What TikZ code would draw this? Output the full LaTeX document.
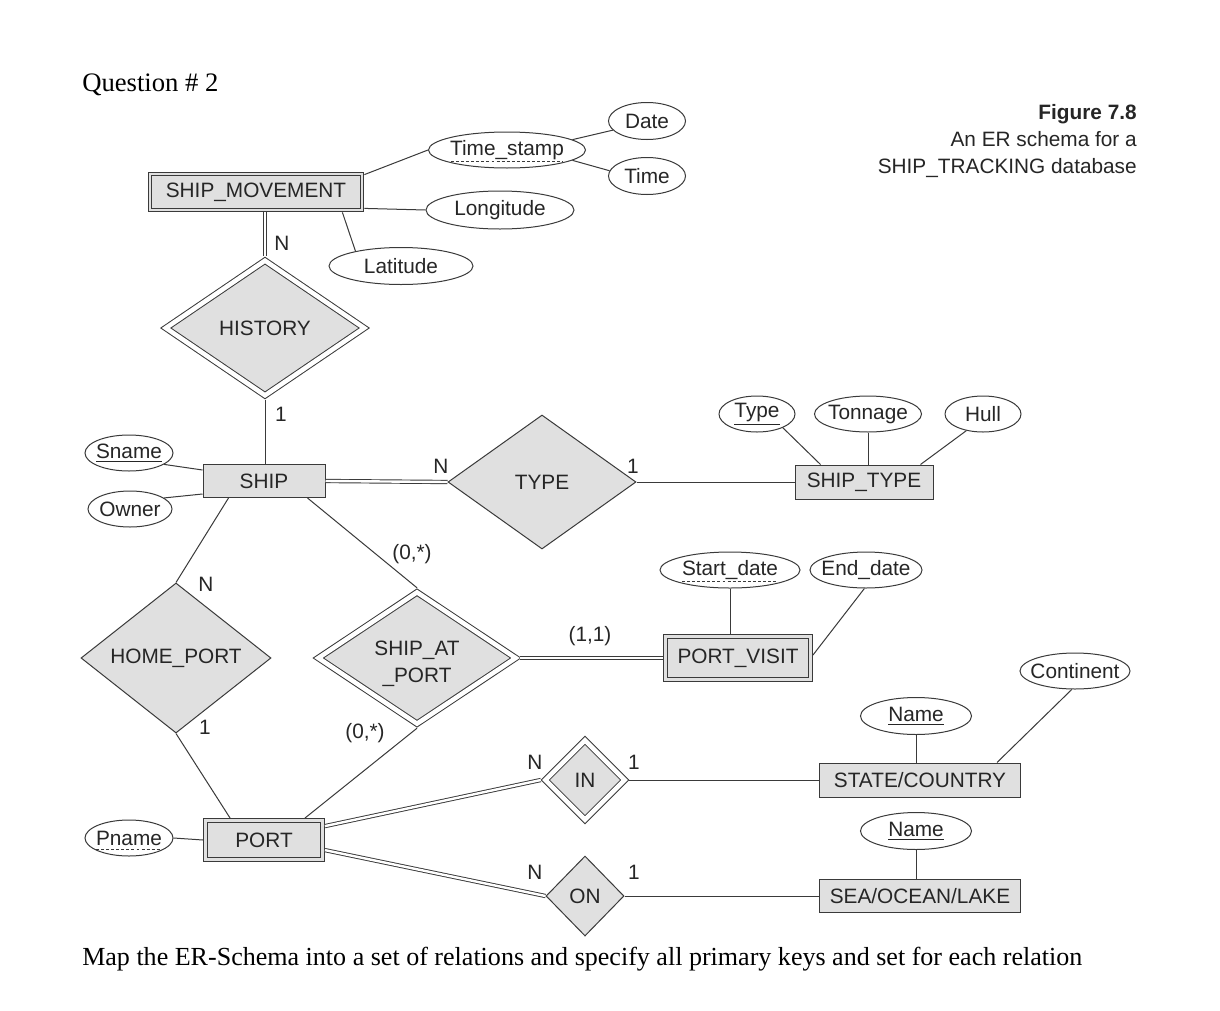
\documentclass[tikz,border=0pt]{standalone}
\usepackage{fontspec}
\setmainfont{Liberation Serif}
\newfontfamily\diagfont{Liberation Sans}
\usetikzlibrary{shapes.geometric,calc}
\definecolor{ln}{HTML}{3A3A3A}
\definecolor{fl}{HTML}{E0E0E0}
\definecolor{tx}{HTML}{262626}
\tikzset{
  lbl/.style={font=\diagfont\fontsize{15.6}{19}\selectfont, text=tx, inner sep=0pt},
  ent/.style={lbl, rectangle, draw=ln, fill=fl, line width=0.75pt},
  went/.style={ent, double=fl, double distance=2.2pt, outer sep=1.8pt},
  rel/.style={lbl, diamond, draw=ln, fill=fl, line width=0.75pt},
  wrel/.style={rel, double=white, double distance=3.4pt, outer sep=2.4pt},
  attr/.style={lbl, ellipse, draw=ln, fill=white, line width=0.75pt, inner xsep=-14pt, inner ysep=-5pt},
  conn/.style={draw=ln, line width=0.75pt},
  dconn/.style={draw=ln, line width=0.7pt, double=white, double distance=1.8pt},
  dul/.style={draw=ln, line width=0.6pt, dash pattern=on 2.2pt off 1.6pt},
  card/.style={lbl}
}
\begin{document}
\begin{tikzpicture}[x=0.75pt,y=-0.75pt]
\useasboundingbox[fill=white] (0,0) rectangle (1220,1010);

% texts of the page
\node[anchor=base west, inner sep=0pt, font=\fontsize{20}{24}\selectfont] (q) at (82,91) {Question \# 2};
\node[anchor=base west, inner sep=0pt] (task) at (82,965) {\resizebox{750pt}{!}{\fontsize{20}{24}\selectfont Map the ER-Schema into a set of relations and specify all primary keys and set for each relation}};

% caption
\node[lbl, anchor=base east, font=\diagfont\bfseries\fontsize{15.6}{19}\selectfont] (cap1) at (1137,119) {Figure 7.8};
\node[lbl, anchor=base east] (cap2) at (1137,146) {An ER schema for a};
\node[lbl, anchor=base east] (cap3) at (1137,173) {SHIP\_TRACKING database};

% entities
\node[went, minimum width=159pt, minimum height=27pt] (sm) at (256,192) {SHIP\_MOVEMENT};
\node[ent, minimum width=91.5pt, minimum height=24.75pt] (ship) at (264,481) {SHIP};
\node[ent, minimum width=103.5pt, minimum height=25.5pt] (stype) at (864,482) {SHIP\_TYPE};
\node[went, minimum width=108.75pt, minimum height=32.25pt] (pv) at (738,658) {PORT\_VISIT};
\node[went, minimum width=87.75pt, minimum height=29.25pt] (port) at (264,840) {PORT};
\node[ent, minimum width=150.75pt, minimum height=25.5pt] (state) at (920,780) {STATE/COUNTRY};
\node[ent, minimum width=150.75pt, minimum height=24.75pt] (sea) at (920,896) {SEA/OCEAN/LAKE};

% relationships
\node[wrel, minimum width=150.75pt, minimum height=103pt] (hist) at (265,328) {HISTORY};
\node[rel, minimum width=141pt, minimum height=100.5pt] (type) at (542,482) {TYPE};
\node[rel, minimum width=142.5pt, minimum height=97.5pt] (hp) at (176,658) {HOME\_PORT};
\node[wrel, minimum width=150pt, minimum height=100.5pt] (sap) at (417,658) {\raisebox{-8pt}[0pt][0pt]{\begin{tabular}{@{}c@{}}SHIP\_AT\\[1.5pt]\_PORT\hspace{6pt}\end{tabular}}};
\node[wrel, minimum width=61.5pt, minimum height=61.5pt] (in) at (585,780) {IN};
\node[rel, minimum width=58.5pt, minimum height=60pt] (on) at (585,896) {ON};

% attributes
\node[attr, minimum width=117.75pt, minimum height=27pt] (ts) at (507,150) {Time\_stamp};
\node[attr, minimum width=57.75pt, minimum height=27.75pt] (date) at (647,121) {Date};
\node[attr, minimum width=57.75pt, minimum height=27.75pt] (time) at (647,176) {Time};
\node[attr, minimum width=111pt, minimum height=28.5pt] (lon) at (500,210) {Longitude};
\node[attr, minimum width=108pt, minimum height=27.75pt] (lat) at (401,266) {Latitude};
\node[attr, minimum width=66pt, minimum height=27pt] (sname) at (129,453) {\underline{Sname}};
\node[attr, minimum width=63pt, minimum height=27pt] (owner) at (130,509) {Owner};
\node[attr, minimum width=57pt, minimum height=27pt] (ttype) at (757,414) {\underline{Type}};
\node[attr, minimum width=80.25pt, minimum height=27pt] (tonn) at (868,414) {Tonnage};
\node[attr, minimum width=57pt, minimum height=27pt] (hull) at (983,414) {Hull};
\node[attr, minimum width=105pt, minimum height=27pt] (sd) at (730,570) {Start\_date};
\node[attr, minimum width=84pt, minimum height=27pt] (ed) at (866,570) {End\_date};
\node[attr, minimum width=82.5pt, minimum height=27pt] (cont) at (1075,671) {Continent};
\node[attr, minimum width=83.25pt, minimum height=27.75pt] (name1) at (916,716) {\underline{Name}};
\node[attr, minimum width=83.25pt, minimum height=27.75pt] (name2) at (916,831) {\underline{Name}};
\node[attr, minimum width=66pt, minimum height=27pt] (pname) at (129,838) {Pname};

% dashed underlines of partial keys
\draw[dul] ($(ts.center)+(-56,11)$) -- ($(ts.center)+(56,11)$);
\draw[dul] ($(sd.center)+(-48,11)$) -- ($(sd.center)+(48,11)$);
\draw[dul] ($(pname.center)+(-33,11)$) -- ($(pname.center)+(33,11)$);

% connectors: attributes
\draw[conn] (ts.west) -- ($(sm.north east)+(0,3)$);
\draw[conn] (lon.west) -- ($(sm.south east)+(0,-4)$);
\draw[conn] ($(sm.south east)+(-22,0)$) -- (lat.162);
\draw[conn] (ts.9) -- (date.195);
\draw[conn] (ts.-9) -- (time.172);
\draw[conn] (sname.-18) -- ($(ship.north west)+(0,6)$);
\draw[conn] (owner.18) -- ($(ship.south west)+(0,-4)$);
\draw[conn] (ttype.-28) -- ($(stype.north west)+(26,0)$);
\draw[conn] (tonn.south) -- (tonn.south |- stype.north);
\draw[conn] (hull.-135) -- ($(stype.north east)+(-13,0)$);
\draw[conn] (sd.south) -- (sd.south |- pv.north);
\draw[conn] (ed.-95) -- ($(pv.north east)+(0,21)$);
\draw[conn] (cont.-100) -- ($(state.north east)+(-24,0)$);
\draw[conn] (name1.south) -- (name1.south |- state.north);
\draw[conn] (name2.south) -- (name2.south |- sea.north);
\draw[conn] (pname.east) -- (port.west);

% connectors: relationships
\draw[dconn] (hist.north |- sm.south) -- (hist.north);
\draw[conn] (hist.south) -- (hist.south |- ship.north);
\draw[dconn] (ship.east) -- (type.west);
\draw[conn] (type.east) -- (stype.west);
\draw[conn] ($(ship.south west)+(26,0)$) -- (hp.north);
\draw[conn] (hp.south) -- ($(port.north west)+(27,0)$);
\draw[conn] ($(ship.south east)+(-18,0)$) -- (sap.north);
\draw[conn] (sap.south) -- ($(port.north east)+(-20,0)$);
\draw[dconn] (sap.east) -- (pv.west);
\draw[dconn] ($(port.north east)+(0,8)$) -- (in.west);
\draw[conn] (in.east) -- (state.west);
\draw[dconn] ($(port.north east)+(0,32)$) -- (on.west);
\draw[conn] (on.east) -- (sea.west);

% cardinalities
\node[card] (c1) at (282,243) {N};
\node[card] (c2) at (281,414) {1};
\node[card] (c3) at (441,466) {N};
\node[card] (c4) at (633,466) {1};
\node[card] (c5) at (206,584) {N};
\node[card] (c6) at (205,727) {1};
\node[card] (c7) at (412,554) {(0,*)};
\node[card] (c8) at (365,733) {(0,*)};
\node[card] (c9) at (590,636) {(1,1)};
\node[card] (c10) at (535,762) {N};
\node[card] (c11) at (634,762) {1};
\node[card] (c12) at (535,872) {N};
\node[card] (c13) at (634,872) {1};
\end{tikzpicture}
\end{document}
